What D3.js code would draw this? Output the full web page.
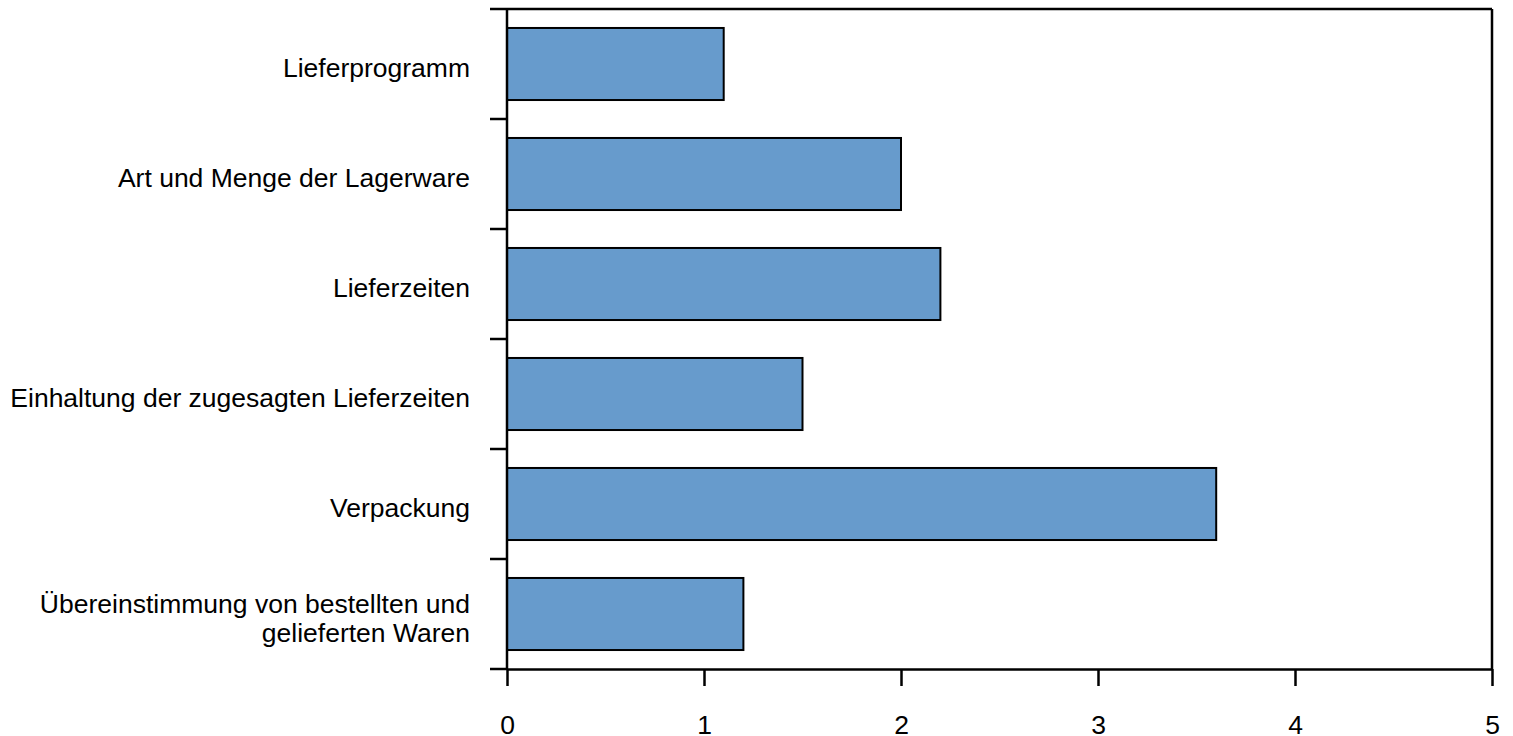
<!DOCTYPE html>
<html>
<head>
<meta charset="utf-8">
<script src="https://cdn.jsdelivr.net/npm/d3@7"></script>
<style>
  body { margin: 0; background: #fff; }
  text { font-family: "Liberation Sans", Arial, sans-serif; fill: #000; }
</style>
</head>
<body>
<script>
// data
const categories = [
  'Lieferprogramm',
  'Art und Menge der Lagerware',
  'Lieferzeiten',
  'Einhaltung der zugesagten Lieferzeiten',
  'Verpackung',
  'Übereinstimmung von bestellten und gelieferten Waren'
];
const labelLines = [
  ['Lieferprogramm'],
  ['Art und Menge der Lagerware'],
  ['Lieferzeiten'],
  ['Einhaltung der zugesagten Lieferzeiten'],
  ['Verpackung'],
  ['Übereinstimmung von bestellten und', 'gelieferten Waren']
];
const values = [1.1, 2.0, 2.2, 1.5, 3.6, 1.2];
const xTicks = [0, 1, 2, 3, 4, 5];

const width = 1513, height = 736;
const plotL = 507, plotR = 1492, plotT = 9, plotB = 669;
const fontSize = 26.5;

const svg = d3.select('body').append('svg')
  .attr('width', width)
  .attr('height', height);

const x = d3.scaleLinear().domain([0, 5]).range([plotL, plotR]);
const y = d3.scaleBand().domain(categories).range([plotT, plotB])
  .paddingInner(0.345).paddingOuter(0.1725);

// bars
svg.selectAll('rect.bar')
  .data(values)
  .join('rect')
  .attr('class', 'bar')
  .attr('x', x(0))
  .attr('y', (d, i) => y(categories[i]))
  .attr('width', d => x(d) - x(0))
  .attr('height', y.bandwidth())
  .attr('fill', '#679bcc')
  .attr('stroke', '#000')
  .attr('stroke-width', 2);

// frame lines (top and right)
svg.append('line')
  .attr('x1', plotL).attr('x2', plotR)
  .attr('y1', plotT).attr('y2', plotT)
  .attr('stroke', '#000').attr('stroke-width', 2.5);
svg.append('line')
  .attr('x1', plotR).attr('x2', plotR)
  .attr('y1', plotT).attr('y2', plotB)
  .attr('stroke', '#000').attr('stroke-width', 2.5);

// x axis
const xAxis = svg.append('g')
  .attr('transform', `translate(0,${plotB})`)
  .call(d3.axisBottom(x).tickValues(xTicks).tickFormat(d3.format('d'))
    .tickSize(17).tickPadding(29).tickSizeOuter(0));
xAxis.select('.domain').attr('stroke-width', 2.5);
xAxis.selectAll('.tick line').attr('stroke-width', 2.5);
xAxis.selectAll('.tick text')
  .style('font-size', fontSize + 'px')
  .style('font-family', '"Liberation Sans", Arial, sans-serif');

// y axis: ticks at band boundaries
const bounds = d3.range(categories.length + 1).map(i => plotT + i * y.step());
svg.append('line')
  .attr('x1', plotL).attr('x2', plotL)
  .attr('y1', plotT).attr('y2', plotB)
  .attr('stroke', '#000').attr('stroke-width', 2.5);
svg.selectAll('line.ytick')
  .data(bounds)
  .join('line')
  .attr('class', 'ytick')
  .attr('x1', plotL - 17).attr('x2', plotL)
  .attr('y1', d => d).attr('y2', d => d)
  .attr('stroke', '#000').attr('stroke-width', 2.5);

// category labels
const lineH = 29;
svg.selectAll('text.cat')
  .data(labelLines)
  .join('text')
  .attr('class', 'cat')
  .attr('text-anchor', 'end')
  .style('font-size', fontSize + 'px')
  .each(function (lines, i) {
    const cy = y(categories[i]) + y.bandwidth() / 2 + 4;
    const t = d3.select(this);
    lines.forEach((ln, j) => {
      t.append('tspan')
        .attr('x', 470)
        .attr('y', cy + (j - (lines.length - 1) / 2) * lineH)
        .attr('dy', '0.35em')
        .text(ln);
    });
  });
</script>
</body>
</html>
